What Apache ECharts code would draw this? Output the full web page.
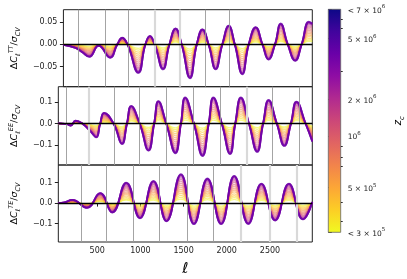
<!DOCTYPE html>
<html><head><meta charset="utf-8">
<script src="https://cdn.jsdelivr.net/npm/echarts@6.0.0/dist/echarts.min.js"></script>
<style>html,body{margin:0;padding:0;background:#fff}#c{width:407px;height:279px}</style>
</head><body><div id="c"></div>
<script>
// ---- data (outermost / highest z_c curve) ----
const ellTT = [49,193,268,356,466,602,686,745,807,935,1018,1072,1128,1227,1302,1375,1447,1545,1625,1693,1765,1848,1927,2003,2075,2163,2239,2322,2401,2473,2549,2617,2700,2788,2864,2950,2990];
const dTT   = [-0.001,-0.008,-0.017,-0.028,-0.003,-0.030,0,0.015,0,-0.064,0,0.019,0,-0.056,0,0.036,0,-0.076,0,0.034,0,-0.056,0,0.042,0,-0.067,0,0.039,0,-0.034,0,0.047,0,-0.037,0,0.051,0.047];
const ellEE = [49,150,193,250,330,420,489,534,580,690,787,844,893,992,1094,1159,1208,1300,1405,1469,1518,1620,1719,1791,1844,1943,2038,2098,2163,2257,2352,2420,2484,2580,2666,2742,2807,2913,2990];
const dEE   = [0.002,-0.002,-0.009,0.014,0,-0.035,-0.064,0,0.051,0,-0.095,0,0.083,0,-0.126,0,0.106,0,-0.138,0,0.123,0,-0.151,0,0.123,0,-0.142,0,0.123,0,-0.132,0,0.111,0,-0.104,0,0.103,0,-0.084];
const ellTE = [49,120,211,382,534,674,836,995,1151,1302,1469,1620,1776,1935,2086,2250,2401,2560,2719,2882,2990];
const dTE   = [0,0.003,0.016,-0.023,0.049,-0.046,0.100,-0.074,0.108,-0.089,0.141,-0.103,0.120,-0.103,0.133,-0.102,0.095,-0.085,0.095,-0.080,0.005];

// relative amplitude of each curve in the family and its colour level (0 = lowest z_c, 1 = highest)
const curveScale = [0.14,0.20,0.27,0.34,0.41,0.48,0.55,0.62,0.69,0.76,0.82,0.87,0.92,0.96,0.985,1.0];
const curveLevel = [0.00,0.053,0.107,0.16,0.213,0.267,0.32,0.373,0.427,0.48,0.533,0.587,0.64,0.693,0.747,0.80];

// vertical reference lines (multipole positions)
const linesTT = [223,541,818,1723,2011];
const linesTTLight = [1128,1420];
const linesEE = [145,693,992,1297,1609,1919,2530,2835];
const linesEELight = [401,2227];
const linesTE = [314,600,912,1222,1538,1848];
const linesTELight = [2166,2492,2810];

// axes ticks
const xTicks = [500,1000,1500,2000,2500];
const xLabels = ['500','1000','1500','2000','2500'];
const yTicksTT = [-0.05,0,0.05];
const yLabelsTT = ['\u22120.05','0.00','0.05'];
const yTicksP = [-0.1,0,0.1];
const yLabelsP = ['\u22120.1','0.0','0.1'];

// colorbar ticks
const cbLevels = [1,0.868,0.596,0.432,0.2,0];
const cbMant = ['< 7 \u00d7 10','5 \u00d7 10','2 \u00d7 10','10','5 \u00d7 10','< 3 \u00d7 10'];
const cbExp = ['6','6','6','6','5','5'];
const cbMinorLevels = [0.955,0.915,0.72,0.384,0.336,0.294,0.133,0.048];

// ---- plasma colormap ----
const plasma = ['#0d0887','#41049d','#6a00a8','#8f0da4','#b12a90','#cc4778','#e16462','#f2844b','#fca636','#fcce25','#f0f921'];
function hex2rgb(h){return [parseInt(h.slice(1,3),16),parseInt(h.slice(3,5),16),parseInt(h.slice(5,7),16)];}
function plasmaAt(t){
  t=Math.max(0,Math.min(1,t));
  const f=t*(plasma.length-1); const i=Math.min(Math.floor(f),plasma.length-2); const r=f-i;
  const a=hex2rgb(plasma[i]), b=hex2rgb(plasma[i+1]);
  return 'rgb('+a.map((v,k)=>Math.round(v+(b[k]-v)*r)).join(',')+')';
}
function nearest(arr,v){let j=0,b=1e9;arr.forEach((t,k)=>{if(Math.abs(t-v)<b){b=Math.abs(t-v);j=k;}});return j;}

const FONT = 'DejaVu Sans';
const nameRich = {
  u:{fontSize:9.5,fontFamily:FONT,lineHeight:14,verticalAlign:'middle',color:'#000'},
  i:{fontSize:9.5,fontFamily:FONT,fontStyle:'italic',lineHeight:14,verticalAlign:'middle',color:'#000'},
  p:{fontSize:6.5,fontFamily:FONT,fontStyle:'italic',lineHeight:9,verticalAlign:'top',color:'#000'},
  s:{fontSize:6.5,fontFamily:FONT,fontStyle:'italic',lineHeight:9,verticalAlign:'bottom',color:'#000'}
};
function yName(k){return '{u|\u0394}{i|C}{s|\u2113}{p|'+k+'}{u|/}{i|\u03c3}{s|CV}';}

const panels = [
  {ell:ellTT,d:dTT,min:-0.095,max:0.078,ticks:yTicksTT,labels:yLabelsTT,lines:linesTT,light:linesTTLight,key:'TT'},
  {ell:ellEE,d:dEE,min:-0.193,max:0.173,ticks:yTicksP,labels:yLabelsP,lines:linesEE,light:linesEELight,key:'EE'},
  {ell:ellTE,d:dTE,min:-0.19,max:0.186,ticks:yTicksP,labels:yLabelsP,lines:linesTE,light:linesTELight,key:'TE'}
];
const gridPos = [{top:9.7,height:77},{top:86.7,height:78.3},{top:165,height:77}];

const grid=[], xAxis=[], yAxis=[], series=[];
panels.forEach((p,i)=>{
  grid.push({left:54,width:258.3,top:gridPos[i].top,height:gridPos[i].height,show:true,borderColor:'#222',borderWidth:1,backgroundColor:'transparent'});
  const bottom = i===2;
  xAxis.push({type:'value',gridIndex:i,min:50,max:2990,
    axisLine:{show:false},splitLine:{show:false},
    axisTick:{show:bottom,customValues:xTicks,length:3.5,lineStyle:{color:'#222'}},
    axisLabel:{show:bottom,customValues:xTicks,fontSize:8,fontFamily:FONT,color:'#222',margin:5,
      formatter:(v)=>xLabels[nearest(xTicks,v)]},
    name:bottom?'\u2113':'',nameLocation:'middle',nameGap:20,
    nameTextStyle:{fontSize:15,fontStyle:'italic',fontFamily:FONT,color:'#000'}
  });
  yAxis.push({type:'value',gridIndex:i,min:p.min,max:p.max,
    axisLine:{show:false},splitLine:{show:false},
    axisTick:{show:true,customValues:p.ticks,length:3.5,lineStyle:{color:'#222'}},
    axisLabel:{customValues:p.ticks,fontSize:8,fontFamily:FONT,color:'#222',margin:6,
      formatter:(v)=>p.labels[nearest(p.ticks,v)]},
    name:yName(p.key),nameLocation:'middle',nameGap:33,nameRotate:90,
    nameTextStyle:{rich:nameRich}
  });
  // vertical reference lines
  const vl = p.lines.map(v=>({xAxis:v,lineStyle:{color:'#9a9a9a',width:0.9,type:'solid'}}))
    .concat(p.light.map(v=>({xAxis:v,lineStyle:{color:'#d9d9d9',width:2.2,type:'solid'}})));
  series.push({type:'line',xAxisIndex:i,yAxisIndex:i,data:[[p.ell[0],0]],showSymbol:false,lineStyle:{opacity:0},z:1,silent:true,
    markLine:{silent:true,symbol:['none','none'],label:{show:false},animation:false,data:vl}});
  // family of curves
  curveScale.forEach((s,k)=>{
    const dark = k>=curveScale.length-3;
    series.push({type:'line',xAxisIndex:i,yAxisIndex:i,smooth:0.5,showSymbol:false,silent:true,z:2,
      data:p.ell.map((l,j)=>[l,p.d[j]*s]),
      lineStyle:{color:plasmaAt(1-curveLevel[k]),width:dark?1.8:1.3,opacity:dark?0.75:0.55}});
  });
  // zero line
  series.push({type:'line',xAxisIndex:i,yAxisIndex:i,data:[[p.ell[0],0]],showSymbol:false,lineStyle:{opacity:0},z:5,silent:true,
    markLine:{silent:true,symbol:['none','none'],label:{show:false},animation:false,
      data:[{yAxis:0,lineStyle:{color:'#000',width:1.3,type:'solid'}}]}});
});

// colorbar
grid.push({left:328.3,width:12.4,top:9.3,height:223,show:true,borderColor:'#666',borderWidth:0.8,backgroundColor:'transparent',z:3});
xAxis.push({type:'value',gridIndex:3,min:0,max:1,show:false});
yAxis.push({type:'value',gridIndex:3,min:0,max:1,position:'right',
  axisLine:{show:false},splitLine:{show:false},
  axisTick:{show:true,customValues:cbLevels,length:3.5,lineStyle:{color:'#222'}},
  axisLabel:{customValues:cbLevels,margin:7,
    formatter:(v)=>{const j=nearest(cbLevels,v);return '{b|'+cbMant[j]+'}{e|'+cbExp[j]+'}';},
    rich:{b:{fontSize:7.5,fontFamily:FONT,color:'#222',lineHeight:11,verticalAlign:'bottom'},
          e:{fontSize:5.5,fontFamily:FONT,color:'#222',lineHeight:11,verticalAlign:'top'}}},
  name:'{i|z}{s|c}',nameLocation:'middle',nameGap:51,nameRotate:90,
  nameTextStyle:{rich:{i:{fontSize:10,fontStyle:'italic',fontFamily:FONT,color:'#000',lineHeight:14,verticalAlign:'middle'},
                       s:{fontSize:7,fontStyle:'italic',fontFamily:FONT,color:'#000',lineHeight:10,verticalAlign:'bottom'}}}
});
yAxis.push({type:'value',gridIndex:3,min:0,max:1,position:'right',
  axisLine:{show:false},splitLine:{show:false},axisLabel:{show:false},
  axisTick:{show:true,customValues:cbMinorLevels,length:2,lineStyle:{color:'#222'}}});
const stops = plasma.map((c,k)=>({offset:k/(plasma.length-1),color:c}));
series.push({type:'custom',xAxisIndex:3,yAxisIndex:3,silent:true,data:[[0,0,1,1]],
  renderItem:(params,api)=>{
    const p0=api.coord([0,0]), p1=api.coord([1,1]);
    return {type:'rect',shape:{x:p0[0],y:p1[1],width:p1[0]-p0[0],height:p0[1]-p1[1]},
      style:{fill:{type:'linear',x:0,y:0,x2:0,y2:1,colorStops:stops}}};
  }});

const chart = echarts.init(document.getElementById('c'),null,{renderer:'canvas'});
chart.setOption({animation:false,backgroundColor:'#fff',grid,xAxis,yAxis,series});
</script></body></html>
